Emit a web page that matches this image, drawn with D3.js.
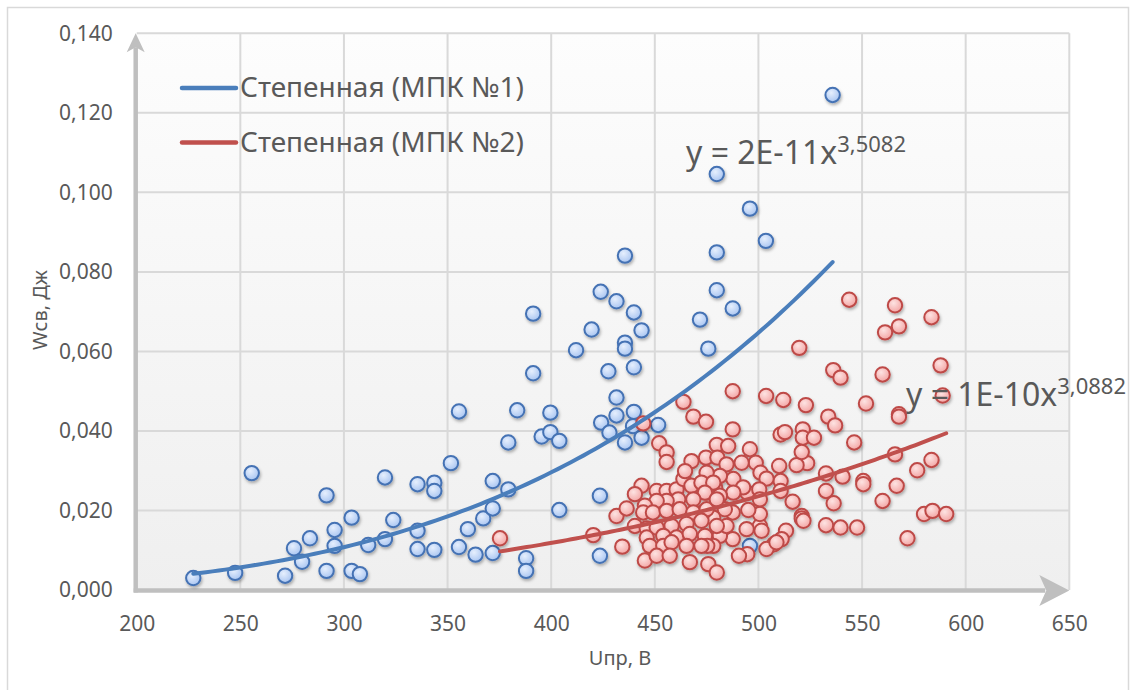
<!DOCTYPE html>
<html>
<head>
<meta charset="utf-8">
<script src="https://cdn.jsdelivr.net/npm/d3@7"></script>
<style>
  html, body { margin: 0; padding: 0; background: #fff; }
  svg { display: block; font-family: "Noto Sans", "Open Sans", sans-serif; }
</style>
</head>
<body>
<div id="chart"></div>
<script>
// МПК №1 (blue points)
const blueU = [227.3, 247.5, 255.5, 271.6, 275.9, 279.8, 283.6, 291.6, 291.6, 295.5,
    295.5, 303.7, 303.7, 307.7, 311.7, 319.8, 319.8, 323.8, 335.5, 335.5,
    335.5, 343.6, 343.6, 343.6, 351.6, 355.5, 355.5, 359.8, 363.5, 367.2,
    371.8, 371.8, 371.8, 379.3, 379.3, 383.6, 387.9, 387.9, 395.4, 399.6,
    399.6, 403.9, 403.9, 423.5, 423.5, 424.1, 428.1, 431.5, 431.5, 391.3,
    391.3, 423.9, 431.5, 439.9, 419.5, 443.6, 412.0, 435.6, 435.6, 471.8,
    475.8, 479.9, 427.6, 439.9, 439.9, 439.5, 435.6, 443.6, 451.6, 487.6,
    495.9, 535.8, 479.9, 495.9, 503.6, 479.9, 435.6];
const blueW = [0.0030, 0.0043, 0.0294, 0.0036, 0.0105, 0.0071, 0.0130, 0.0238, 0.0048, 0.0151,
    0.0111, 0.0182, 0.0048, 0.0040, 0.0113, 0.0283, 0.0128, 0.0176, 0.0266, 0.0149,
    0.0103, 0.0270, 0.0249, 0.0101, 0.0319, 0.0449, 0.0108, 0.0153, 0.0089, 0.0180,
    0.0205, 0.0274, 0.0093, 0.0371, 0.0253, 0.0452, 0.0080, 0.0048, 0.0386, 0.0446,
    0.0397, 0.0375, 0.0201, 0.0237, 0.0086, 0.0421, 0.0396, 0.0484, 0.0439, 0.0695,
    0.0545, 0.0750, 0.0726, 0.0698, 0.0655, 0.0653, 0.0603, 0.0622, 0.0607, 0.0680,
    0.0607, 0.0754, 0.0550, 0.0560, 0.0448, 0.0412, 0.0371, 0.0383, 0.0415, 0.0708,
    0.0111, 0.1245, 0.1046, 0.0959, 0.0878, 0.0849, 0.0841];

// МПК №2 (red points)
const redU = [375.3, 420.3, 431.5, 434.3, 444.4, 463.8, 468.6, 474.7, 452.1, 455.7,
    455.7, 467.7, 474.7, 479.9, 543.8, 565.9, 567.8, 561.1, 583.5, 519.7,
    536.1, 539.6, 559.9, 587.9, 588.9, 487.6, 503.7, 512.0, 522.9, 551.9,
    567.8, 567.8, 533.7, 537.0, 487.6, 510.7, 512.8, 521.4, 521.4, 526.8,
    546.2, 565.9, 583.5, 576.6, 550.6, 550.6, 566.7, 559.9, 540.6, 532.6,
    532.6, 536.3, 579.9, 584.0, 590.6, 571.9, 532.6, 539.6, 547.6, 520.9,
    520.9, 521.7, 516.5, 523.5, 518.4, 520.9, 510.0, 510.7, 510.7, 513.3,
    511.2, 507.5, 503.9, 500.7, 501.5, 500.7, 495.9, 498.7, 501.0, 503.9,
    494.6, 500.4, 500.7, 495.1, 487.6, 494.3, 494.6, 490.6, 487.6, 481.4,
    478.2, 485.4, 480.2, 484.6, 491.9, 487.9, 481.4, 492.6, 487.9, 479.1,
    481.4, 475.0, 483.8, 478.2, 484.6, 473.3, 474.2, 475.3, 508.7, 443.6,
    440.4, 436.4, 450.9, 455.7, 460.5, 463.8, 467.7, 464.6, 475.0, 472.5,
    478.2, 474.2, 468.6, 461.3, 455.7, 450.9, 445.2, 444.4, 449.1, 455.7,
    462.0, 468.6, 475.0, 479.9, 440.4, 446.1, 450.9, 458.1, 465.3, 472.5,
    479.9, 446.1, 454.1, 460.5, 466.9, 447.6, 454.1, 458.1, 465.3, 472.5,
    445.2, 450.9, 457.2, 466.9, 475.8, 479.9];
const redW = [0.0130, 0.0138, 0.0186, 0.0109, 0.0419, 0.0473, 0.0436, 0.0423, 0.0369, 0.0346,
    0.0322, 0.0324, 0.0333, 0.0365, 0.0730, 0.0716, 0.0663, 0.0648, 0.0686, 0.0609,
    0.0553, 0.0534, 0.0542, 0.0565, 0.0489, 0.0500, 0.0488, 0.0478, 0.0465, 0.0469,
    0.0442, 0.0436, 0.0436, 0.0414, 0.0404, 0.0391, 0.0397, 0.0404, 0.0383, 0.0383,
    0.0371, 0.0341, 0.0327, 0.0301, 0.0274, 0.0266, 0.0262, 0.0224, 0.0285, 0.0293,
    0.0249, 0.0218, 0.0191, 0.0199, 0.0191, 0.0130, 0.0163, 0.0157, 0.0157, 0.0186,
    0.0180, 0.0174, 0.0222, 0.0319, 0.0314, 0.0347, 0.0312, 0.0274, 0.0249, 0.0149,
    0.0128, 0.0115, 0.0103, 0.0161, 0.0149, 0.0191, 0.0354, 0.0320, 0.0295, 0.0280,
    0.0245, 0.0253, 0.0228, 0.0201, 0.0195, 0.0153, 0.0090, 0.0086, 0.0128, 0.0136,
    0.0111, 0.0362, 0.0333, 0.0316, 0.0320, 0.0279, 0.0287, 0.0258, 0.0245, 0.0258,
    0.0237, 0.0245, 0.0203, 0.0182, 0.0161, 0.0195, 0.0136, 0.0111, 0.0120, 0.0262,
    0.0241, 0.0205, 0.0249, 0.0249, 0.0253, 0.0279, 0.0262, 0.0299, 0.0295, 0.0270,
    0.0270, 0.0245, 0.0228, 0.0228, 0.0224, 0.0224, 0.0212, 0.0195, 0.0195, 0.0199,
    0.0203, 0.0195, 0.0203, 0.0228, 0.0161, 0.0155, 0.0157, 0.0161, 0.0166, 0.0174,
    0.0161, 0.0132, 0.0136, 0.0132, 0.0141, 0.0111, 0.0111, 0.0120, 0.0111, 0.0111,
    0.0074, 0.0086, 0.0086, 0.0070, 0.0065, 0.0044];

// power trendlines y = a * x^b
const blueTrend = { a: 2.2e-11, b: 3.5082 };
const redTrend = { a: 1.09e-10, b: 3.0882 };

const xTicks = [200, 250, 300, 350, 400, 450, 500, 550, 600, 650];
const yTicks = [0, 0.02, 0.04, 0.06, 0.08, 0.10, 0.12, 0.14];

const legendLabels = ["Степенная (МПК №1)", "Степенная (МПК №2)"];
const eqMain = ["y = 2E-11x", "y = 1E-10x"];
const eqPow = ["3,5082", "3,0882"];
const xTitle = "Uпр, В";
const yTitle = "Wсв, Дж";

const width = 1136, height = 690;
const textColor = "#595959";
const blueLine = "#4a7ebb", redLine = "#c0504d";

const svg = d3.select("#chart").append("svg")
    .attr("width", width)
    .attr("height", height);

const defs = svg.append("defs");
const bg = defs.append("linearGradient").attr("id", "plotBg")
    .attr("x1", 0).attr("y1", 0).attr("x2", 0).attr("y2", 1);
bg.append("stop").attr("offset", "0%").attr("stop-color", "#fdfdfd");
bg.append("stop").attr("offset", "100%").attr("stop-color", "#efefef");

const addMarkerFill = function (id, light, dark) {
    let g = defs.append("radialGradient").attr("id", id)
        .attr("cx", "40%").attr("cy", "35%").attr("r", "70%");
    g.append("stop").attr("offset", "0%").attr("stop-color", light);
    g.append("stop").attr("offset", "100%").attr("stop-color", dark);
}
addMarkerFill("blueFill", "#e6effd", "#a6c3f1");
addMarkerFill("redFill", "#fde3e2", "#f3a2a1");

const shadow = defs.append("filter").attr("id", "shadow")
    .attr("x", "-20%").attr("y", "-20%").attr("width", "140%").attr("height", "140%");
shadow.append("feDropShadow")
    .attr("dx", 1).attr("dy", 2).attr("stdDeviation", 1.4)
    .attr("flood-color", "#000").attr("flood-opacity", 0.3);

// chart border
svg.append("rect")
    .attr("x", 7.5).attr("y", 7.5)
    .attr("width", 1121).attr("height", 700)
    .attr("fill", "#fff")
    .attr("stroke", "#d9d9d9")
    .attr("stroke-width", 1.5);

let x = d3.scaleLinear().domain([200, 650]).range([136.7, 1069.3]);
let y = d3.scaleLinear().domain([0, 0.14]).range([590, 33.3]);

// plot area
svg.append("rect")
    .attr("x", x(200)).attr("y", y(0.14))
    .attr("width", x(650) - x(200)).attr("height", y(0) - y(0.14))
    .attr("fill", "url(#plotBg)");

// gridlines
svg.append("g")
    .selectAll("line")
    .data(xTicks.slice(1))
    .enter()
    .append("line")
    .attr("x1", d => x(d)).attr("x2", d => x(d))
    .attr("y1", y(0)).attr("y2", y(0.14))
    .attr("stroke", "#d9d9d9").attr("stroke-width", 2);

svg.append("g")
    .selectAll("line")
    .data(yTicks.slice(1))
    .enter()
    .append("line")
    .attr("x1", x(200)).attr("x2", x(650))
    .attr("y1", d => y(d)).attr("y2", d => y(d))
    .attr("stroke", "#d9d9d9").attr("stroke-width", 2);

// tick labels
const ru = d3.formatLocale({ decimal: ",", thousands: "\u00a0", grouping: [3], currency: ["", ""] });
const fmtY = ru.format(".3f");

let xAxis = svg.append("g")
    .attr("transform", "translate(0," + y(0) + ")")
    .call(d3.axisBottom(x).tickValues(xTicks).tickSize(0).tickFormat(d3.format("d")));
xAxis.select(".domain").remove();
xAxis.selectAll("text")
    .attr("y", 41).attr("dy", 0)
    .attr("fill", textColor)
    .style("font-size", "21px")
    .style("font-family", "'Noto Sans', sans-serif");

let yAxis = svg.append("g")
    .attr("transform", "translate(" + x(200) + ",0)")
    .call(d3.axisLeft(y).tickValues(yTicks).tickSize(0).tickPadding(24).tickFormat(fmtY));
yAxis.select(".domain").remove();
yAxis.selectAll("text")
    .attr("fill", textColor)
    .style("font-size", "21px")
    .style("font-family", "'Noto Sans', sans-serif");

// axis lines with arrow heads
const axisColor = "#bfbfbf";
const ax0 = x(200) - 1, ay0 = y(0) + 0.5;
svg.append("line")
    .attr("x1", ax0).attr("x2", ax0)
    .attr("y1", ay0 + 2).attr("y2", y(0.14) + 14)
    .attr("stroke", axisColor).attr("stroke-width", 4.5);
svg.append("path")
    .attr("d", `M${ax0},${y(0.14)} L${ax0 - 9},${y(0.14) + 19} L${ax0},${y(0.14) + 14} L${ax0 + 9},${y(0.14) + 19} Z`)
    .attr("fill", axisColor);
svg.append("line")
    .attr("x1", ax0 - 2).attr("x2", x(650) - 24)
    .attr("y1", ay0).attr("y2", ay0)
    .attr("stroke", axisColor).attr("stroke-width", 4.5);
svg.append("path")
    .attr("d", `M${x(650)},${ay0} L${x(650) - 30},${ay0 - 15.5} L${x(650) - 23},${ay0} L${x(650) - 30},${ay0 + 15.5} Z`)
    .attr("fill", axisColor);

// markers
const drawPoints = function (us, ws, fill, stroke) {
    svg.append("g")
        .attr("filter", "url(#shadow)")
        .selectAll("circle")
        .data(d3.range(us.length))
        .enter()
        .append("circle")
        .attr("cx", i => x(us[i]))
        .attr("cy", i => y(ws[i]))
        .attr("r", 7.2)
        .attr("fill", fill)
        .attr("stroke", stroke)
        .attr("stroke-width", 2);
}
drawPoints(blueU, blueW, "url(#blueFill)", "#4472b4");
drawPoints(redU, redW, "url(#redFill)", "#be4a47");

// trendlines over the data range of each series
const drawTrend = function (us, trend, color) {
    const lo = d3.min(us), hi = d3.max(us);
    const pts = d3.range(0, 101).map(k => {
        const u = lo + (hi - lo) * k / 100;
        return [u, trend.a * Math.pow(u, trend.b)];
    });
    svg.append("path")
        .datum(pts)
        .attr("d", d3.line().x(d => x(d[0])).y(d => y(d[1])))
        .attr("fill", "none")
        .attr("stroke", color)
        .attr("stroke-width", 4)
        .attr("stroke-linecap", "round");
}
drawTrend(blueU, blueTrend, blueLine);
drawTrend(redU, redTrend, redLine);

// legend
const legend = svg.append("g");
[blueLine, redLine].forEach((c, i) => {
    const ly = 88 + i * 54.5;
    legend.append("line")
        .attr("x1", 182).attr("x2", 236)
        .attr("y1", ly).attr("y2", ly)
        .attr("stroke", c).attr("stroke-width", 4.5)
        .attr("stroke-linecap", "round");
    legend.append("text")
        .attr("x", 240).attr("y", ly + 9)
        .attr("fill", textColor)
        .style("font-size", "28px")
        .text(legendLabels[i]);
});

// trendline equations
const eqPos = [[686, 164], [906, 406]];
eqPos.forEach((p, i) => {
    let t = svg.append("text")
        .attr("x", p[0]).attr("y", p[1])
        .attr("fill", textColor)
        .style("font-size", "32px");
    t.append("tspan").text(eqMain[i]);
    t.append("tspan")
        .attr("dy", -12)
        .style("font-size", "22px")
        .text(eqPow[i]);
});

// axis titles
svg.append("text")
    .attr("x", 620).attr("y", 665)
    .attr("text-anchor", "middle")
    .attr("fill", textColor)
    .style("font-size", "20px")
    .text(xTitle);

svg.append("text")
    .attr("transform", "translate(47,310) rotate(-90)")
    .attr("text-anchor", "middle")
    .attr("fill", textColor)
    .style("font-size", "20px")
    .text(yTitle);
</script>
</body>
</html>
